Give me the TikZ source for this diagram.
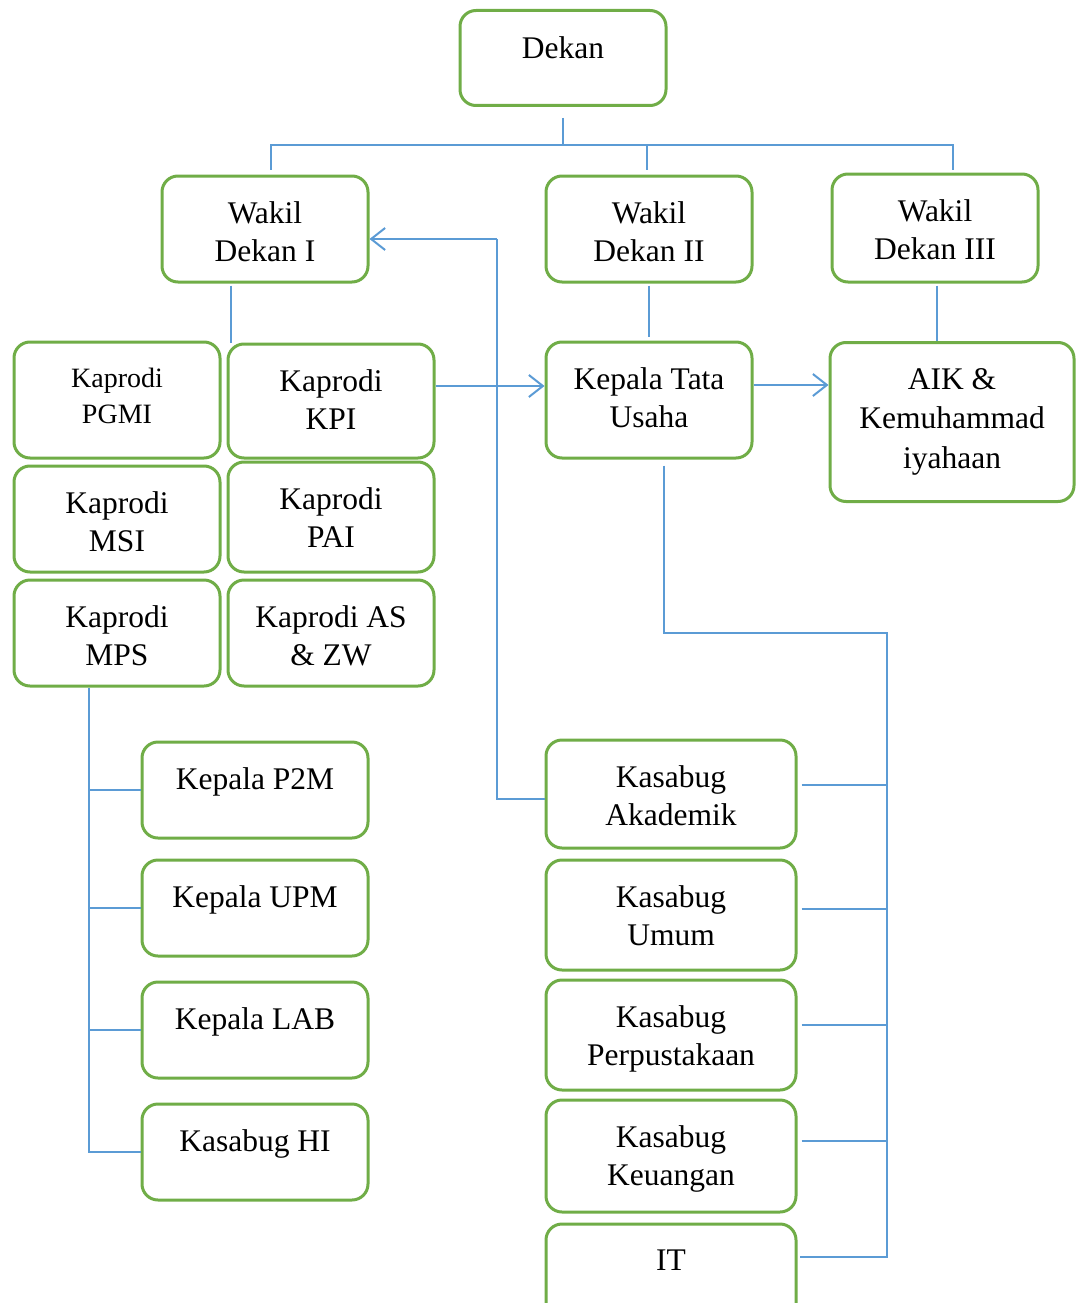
\documentclass[tikz,border=0pt]{standalone}
\usepackage{fontspec}
\setmainfont{Liberation Serif}
\usetikzlibrary{arrows.meta}
\definecolor{boxgreen}{HTML}{70AD47}
\definecolor{lineblue}{HTML}{5B9BD5}

\begin{document}
\begin{tikzpicture}[x=1pt, y=-1pt,
	box/.style={draw=boxgreen, line width=3pt, rounded corners=16pt, fill=white, inner sep=0pt},
	txt/.style={anchor=north, yshift=-27pt, align=center, inner sep=0pt, font=\fontsize{31.5}{38}\selectfont},
	con/.style={draw=lineblue, line width=1.2pt},
	arr/.style={draw=lineblue, line width=2pt, -{Straight Barb[length=14pt, width=22pt]}}]
	\useasboundingbox (0,0) rectangle (1083,1303);
	\clip (0,0) rectangle (1083,1303);

	\node[box, minimum width=206pt, minimum height=95pt, label={[txt]north:Dekan}] (dekan) at (563,58) {};
	\node[box, minimum width=206pt, minimum height=106pt, label={[txt]north:Wakil\\Dekan I}] (wd1) at (265,229) {};
	\node[box, minimum width=206pt, minimum height=106pt, label={[txt]north:Wakil\\Dekan II}] (wd2) at (649,229) {};
	\node[box, minimum width=206pt, minimum height=108pt, label={[txt]north:Wakil\\Dekan III}] (wd3) at (935,228) {};

	\node[box, minimum width=206pt, minimum height=116pt, label={[txt, font=\fontsize{28}{36}\selectfont]north:Kaprodi\\PGMI}] (pgmi) at (117,400) {};
	\node[box, minimum width=206pt, minimum height=114pt, label={[txt]north:Kaprodi\\KPI}] (kpi) at (331,401) {};
	\node[box, minimum width=206pt, minimum height=106pt, label={[txt]north:Kaprodi\\MSI}] (msi) at (117,519) {};
	\node[box, minimum width=206pt, minimum height=110pt, label={[txt]north:Kaprodi\\PAI}] (pai) at (331,517) {};
	\node[box, minimum width=206pt, minimum height=106pt, label={[txt]north:Kaprodi\\MPS}] (mps) at (117,633) {};
	\node[box, minimum width=206pt, minimum height=106pt, label={[txt]north:Kaprodi AS\\\& ZW}] (asz) at (331,633) {};

	\node[box, minimum width=206pt, minimum height=116pt, label={[txt]north:Kepala Tata\\Usaha}] (ktu) at (649,400) {};
	\node[box, minimum width=244pt, minimum height=159pt, label={[txt, font=\fontsize{31.5}{39.5}\selectfont]north:AIK \&\\Kemuhammad\\iyahaan}] (aik) at (952,422) {};

	\node[box, minimum width=226pt, minimum height=96pt, label={[txt]north:Kepala P2M}] (p2m) at (255,790) {};
	\node[box, minimum width=226pt, minimum height=96pt, label={[txt]north:Kepala UPM}] (upm) at (255,908) {};
	\node[box, minimum width=226pt, minimum height=96pt, label={[txt]north:Kepala LAB}] (lab) at (255,1030) {};
	\node[box, minimum width=226pt, minimum height=96pt, label={[txt]north:Kasabug HI}] (hi) at (255,1152) {};

	\node[box, minimum width=250pt, minimum height=108pt, label={[txt]north:Kasabug\\Akademik}] (aka) at (671,794) {};
	\node[box, minimum width=250pt, minimum height=110pt, label={[txt]north:Kasabug\\Umum}] (umu) at (671,915) {};
	\node[box, minimum width=250pt, minimum height=110pt, label={[txt]north:Kasabug\\Perpustakaan}] (per) at (671,1035) {};
	\node[box, minimum width=250pt, minimum height=112pt, label={[txt]north:Kasabug\\Keuangan}] (keu) at (671,1156) {};
	\node[box, minimum width=250pt, minimum height=98pt, label={[txt]north:IT}] (it) at (671,1273) {};

	\coordinate (bar) at (567,145);
	\coordinate (elbow) at (497,239);
	\coordinate (rbus) at (887,633);

	\draw[con] ([yshift=-11pt]dekan.south) -- (dekan.south |- bar);
	\draw[con] ([xshift=6pt,yshift=5pt]wd1.north) -- ([xshift=6pt]wd1.north |- bar)
		-- ([xshift=18pt]wd3.north |- bar) -- ([xshift=18pt,yshift=3pt]wd3.north);
	\draw[con] ([xshift=-2pt]wd2.north |- bar) -- ([xshift=-2pt,yshift=5pt]wd2.north);

	\draw[con] ([xshift=-34pt,yshift=-2pt]wd1.south) -- ([xshift=-34pt]wd1.south |- kpi.north);
	\draw[con] ([yshift=-2pt]wd2.south) -- ([yshift=4pt]ktu.north);
	\draw[con] ([xshift=2pt,yshift=-2pt]wd3.south) -- ([xshift=2pt]wd3.south |- aik.north);

	\draw[arr] ([yshift=15pt]kpi.east) -- ([yshift=15pt]kpi.east -| ktu.west);
	\draw[arr] ([yshift=15pt]ktu.east) -- ([yshift=15pt]ktu.east -| aik.west);

	\draw[con] ([yshift=-5pt]aka.west) -| (elbow);
	\draw[arr] (elbow) -- (elbow -| wd1.east);

	\draw[con] ([xshift=15pt,yshift=-6pt]ktu.south) |- (rbus) |- ([yshift=16pt,xshift=2pt]it.east);
	\foreach \b/\s in {aka/9, umu/6, per/10, keu/15}
		\draw[con] ([xshift=4pt,yshift=\s pt]\b.east) -- ([yshift=\s pt]\b.east -| rbus);

	\draw[con] ([xshift=-28pt]mps.south) |- (hi.west);
	\foreach \b in {p2m, upm, lab}
		\draw[con] (\b.west) -- ([xshift=-28pt]mps.south |- \b.west);
\end{tikzpicture}
\end{document}
